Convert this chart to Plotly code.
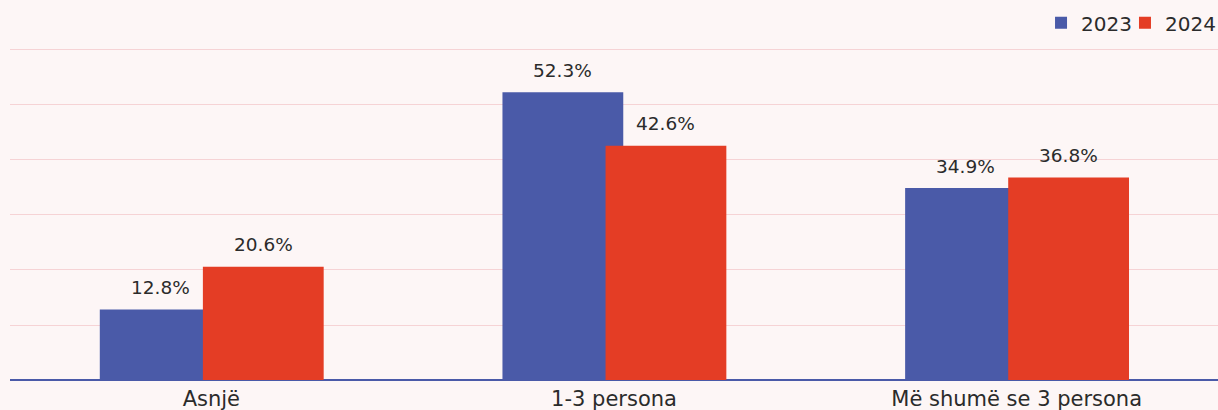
import plotly.graph_objects as go

categories = ["Asnjë", "1-3 persona", "Më shumë se 3 persona"]
values_2023 = [12.8, 52.3, 34.9]
values_2024 = [20.6, 42.6, 36.8]
series_names = ["2023", "2024"]

BLUE = "#4a5aa8"
RED = "#e43d25"
BG = "#fdf6f6"
GRID = "#f6d3d5"
TXT = "#2b2b2b"
FONT = "DejaVu Sans, sans-serif"

xs = list(range(len(categories)))
W = 0.30
off_blue = -0.277
off_red = -0.021

fig = go.Figure()
fig.add_trace(go.Bar(x=xs, y=values_2023, name=series_names[0], marker_color=BLUE,
                     width=W, offset=off_blue, marker_line_width=0,
                     legend="legend", showlegend=True))
fig.add_trace(go.Bar(x=xs, y=values_2024, name=series_names[1], marker_color=RED,
                     width=W, offset=off_red, marker_line_width=0,
                     legend="legend2", showlegend=True))

for i in xs:
    fig.add_annotation(x=i + off_blue + W / 2, y=values_2023[i], text=f"{values_2023[i]:.1f}%",
                       showarrow=False, yanchor="middle", yshift=22,
                       font=dict(size=18.5, color=TXT, family=FONT))
    fig.add_annotation(x=i + off_red + W / 2, y=values_2024[i], text=f"{values_2024[i]:.1f}%",
                       showarrow=False, yanchor="middle", yshift=22,
                       font=dict(size=18.5, color=TXT, family=FONT))

leg_common = dict(orientation="h", y=1.076, yanchor="middle", xanchor="left",
                  itemwidth=30, font=dict(size=20, color=TXT, family=FONT),
                  bgcolor="rgba(0,0,0,0)", visible=True)

fig.update_layout(
    width=1218, height=410,
    showlegend=True,
    margin=dict(l=10, r=0, t=48, b=30, autoexpand=False),
    paper_bgcolor=BG, plot_bgcolor=BG,
    barmode="overlay",
    font=dict(family=FONT, color=TXT, size=20),
    legend=dict(x=0.8535, **leg_common),
    legend2=dict(x=0.9230, **leg_common),
    xaxis=dict(range=[-0.5, 2.5], tickvals=xs, ticktext=categories, showgrid=False,
               zeroline=False, showline=False, ticks="", ticklabelstandoff=4,
               tickfont=dict(size=21, color=TXT)),
    yaxis=dict(range=[0, 60.36], tickvals=[0, 10, 20, 30, 40, 50, 60], showgrid=True,
               gridcolor=GRID, gridwidth=1,
               showticklabels=False, zeroline=True, zerolinecolor=BLUE, zerolinewidth=2),
)
fig.write_html("out.html", config={"displayModeBar": False},
               post_script="document.body.style.margin='0';")
